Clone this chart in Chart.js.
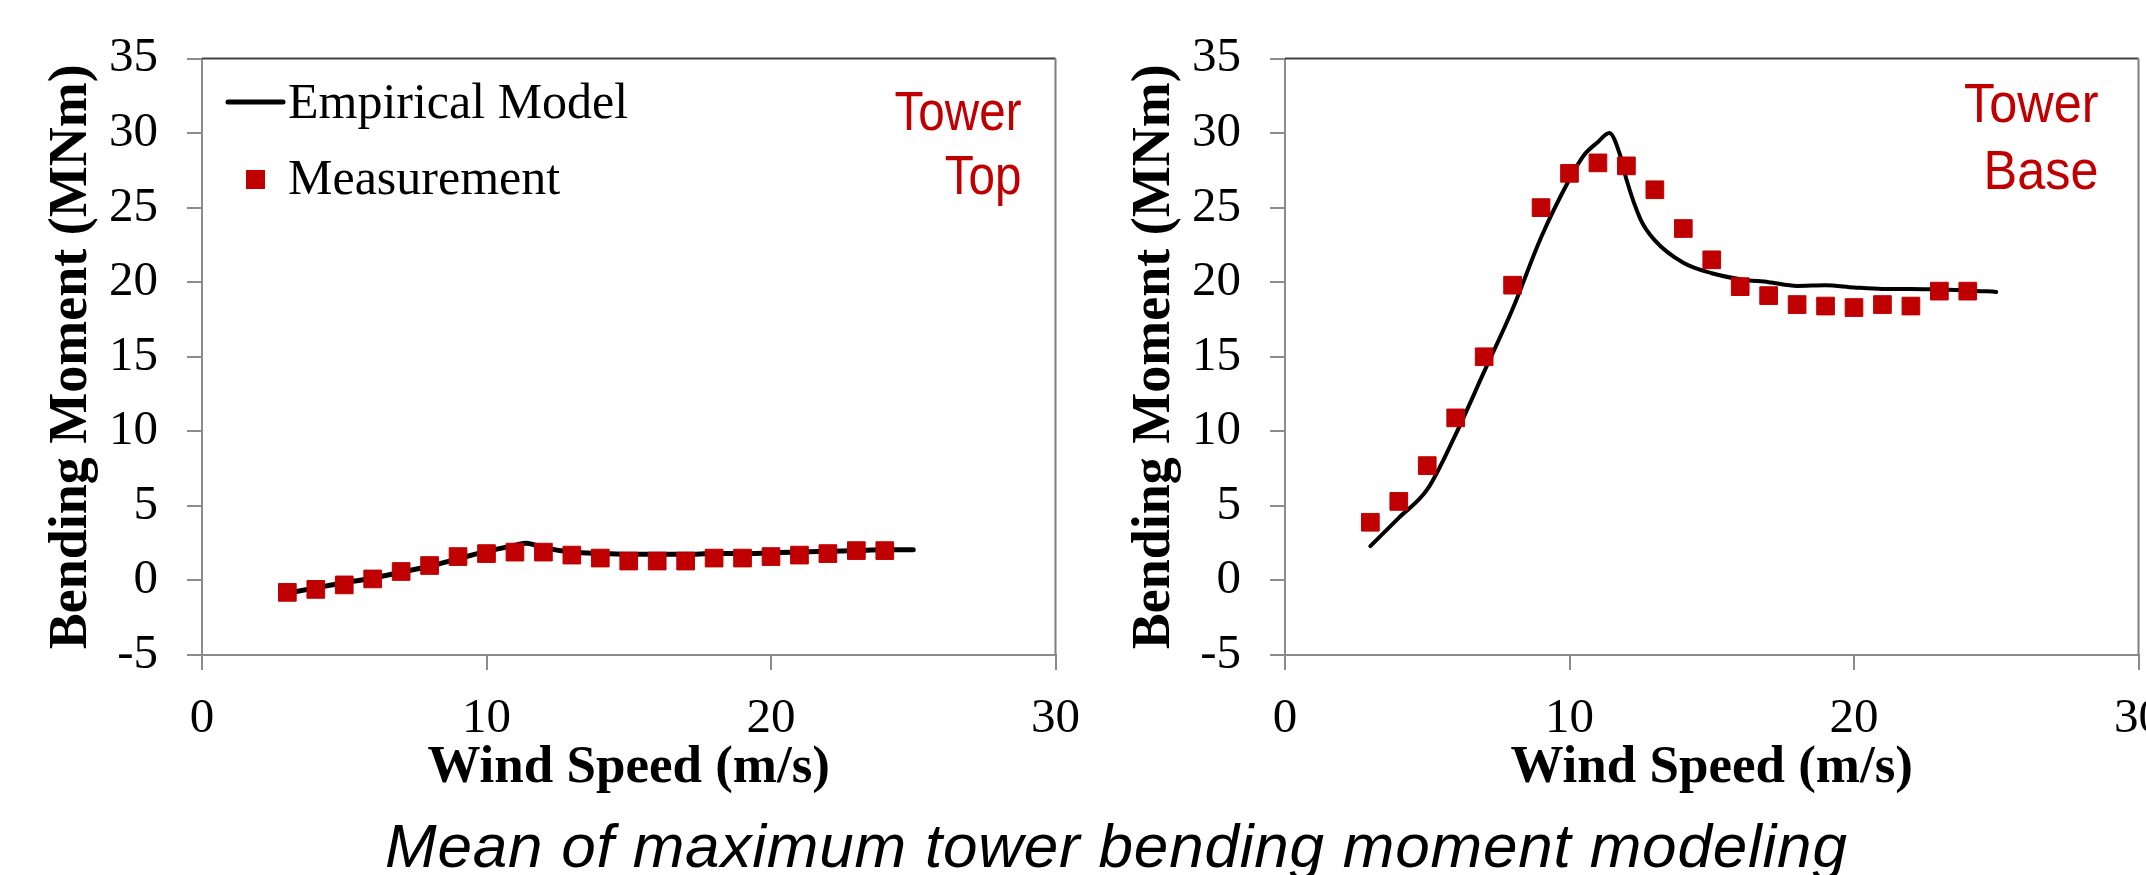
<!DOCTYPE html>
<html>
<head>
<meta charset="utf-8">
<script src="https://cdn.jsdelivr.net/npm/chart.js@4.4.1/dist/chart.umd.min.js"></script>
<style>
  html, body { margin: 0; padding: 0; background: #fff; }
  body { width: 2146px; height: 875px; position: relative; overflow: hidden; }
  canvas { position: absolute; top: 0; }
  #topChart  { left: 0; }
  #baseChart { left: 1083px; }
  #caption {
    position: absolute; left: 385px; top: 815px;
    font: italic 62px "Liberation Sans", Arial, sans-serif;
    line-height: 62px; letter-spacing: 0.8px; white-space: nowrap; color: #000;
  }
</style>
</head>
<body>
<canvas id="topChart" width="1100" height="800"></canvas>
<canvas id="baseChart" width="1100" height="800"></canvas>
<div id="caption">Mean of maximum tower bending moment modeling</div>

<script>
// ─────────────────────────────────────────────
// Data
// ─────────────────────────────────────────────
const windSpeed = [3, 4, 5, 6, 7, 8, 9, 10, 11, 12, 13, 14, 15, 16, 17, 18, 19, 20, 21, 22, 23, 24];

const topMeasured  = [-0.8, -0.6, -0.3, 0.1, 0.6, 1.0, 1.6, 1.8, 1.9, 1.9, 1.7, 1.5, 1.3, 1.3, 1.3, 1.5, 1.5, 1.6, 1.7, 1.8, 2.0, 2.0];
const baseMeasured = [3.9, 5.3, 7.7, 10.9, 15.0, 19.8, 25.0, 27.3, 28.0, 27.8, 26.2, 23.6, 21.5, 19.7, 19.1, 18.5, 18.4, 18.3, 18.5, 18.4, 19.4, 19.4];

const topModelSpeed = [3, 4, 5, 6, 7, 8, 9, 10, 11, 11.4, 12, 13, 14, 15, 16, 17, 18, 19, 20, 21, 22, 23, 24, 25];
const topModel      = [-0.85, -0.5, -0.15, 0.15, 0.55, 0.95, 1.45, 1.95, 2.35, 2.5, 2.2, 1.9, 1.8, 1.75, 1.75, 1.75, 1.8, 1.8, 1.85, 1.9, 1.95, 2.0, 2.05, 2.05];

const baseModelSpeed = [3, 4, 5, 6, 7, 8, 9, 10, 10.5, 11, 11.4, 11.8, 12, 12.5, 13, 14, 15, 16, 17, 18, 19, 20, 21, 22, 23, 24, 25];
const baseModel      = [2.3, 4.2, 6.1, 9.8, 14.0, 18.2, 23.0, 26.9, 28.5, 29.4, 30.0, 28.4, 26.9, 24.2, 22.8, 21.3, 20.6, 20.2, 20.0, 19.75, 19.8, 19.65, 19.55, 19.55, 19.5, 19.45, 19.35];

const xTicks = [0, 10, 20, 30];
const yTicks = [-5, 0, 5, 10, 15, 20, 25, 30, 35];

const seriesNames = ["Empirical Model", "Measurement"];

// ─────────────────────────────────────────────
// Styling
// ─────────────────────────────────────────────
const RED   = "#C00000";
const AXIS  = "#8c8c8c";
const SERIF = "'Liberation Serif', 'Times New Roman', serif";
const SANS  = "'Liberation Sans', Arial, sans-serif";

// ─────────────────────────────────────────────
// Plugin: plot frame, panel label, in-plot legend
// ─────────────────────────────────────────────
const panelDecor = {
  id: "panelDecor",
  beforeDatasetsDraw(chart) {
    const { ctx, chartArea: a } = chart;
    ctx.save();
    ctx.lineWidth = 2;
    ctx.strokeStyle = "#404040";
    ctx.beginPath();
    ctx.moveTo(a.left, a.top);
    ctx.lineTo(a.right, a.top);
    ctx.stroke();
    ctx.strokeStyle = "#7f7f7f";
    ctx.beginPath();
    ctx.moveTo(a.right, a.top);
    ctx.lineTo(a.right, a.bottom);
    ctx.stroke();
    ctx.restore();
  },
  afterDraw(chart, args, opts) {
    const { ctx, chartArea: a } = chart;
    ctx.save();

    // Panel label (red, right aligned)
    ctx.fillStyle = RED;
    ctx.textAlign = "right";
    ctx.textBaseline = "middle";
    ctx.font = `${opts.labelSize}px ${SANS}`;
    opts.label.forEach((txt, i) => {
      ctx.save();
      ctx.translate(a.right - opts.labelRight, a.top + opts.labelY[i]);
      ctx.scale(opts.labelSquash, 1);
      ctx.fillText(txt, 0, 0);
      ctx.restore();
    });

    // Legend inside the plot
    if (opts.legend) {
      ctx.strokeStyle = "#000";
      ctx.lineWidth = 5;
      ctx.lineCap = "round";
      ctx.beginPath();
      ctx.moveTo(a.left + 26, a.top + 43.5);
      ctx.lineTo(a.left + 81, a.top + 43.5);
      ctx.stroke();

      ctx.fillStyle = RED;
      ctx.fillRect(a.left + 44, a.top + 111.5, 19, 19);

      ctx.fillStyle = "#000";
      ctx.textAlign = "left";
      ctx.textBaseline = "alphabetic";
      ctx.font = `50px ${SERIF}`;
      ctx.fillText(seriesNames[0], a.left + 86, a.top + 59.5);
      ctx.fillText(seriesNames[1], a.left + 86, a.top + 135.5);
    }
    ctx.restore();
  }
};

// ─────────────────────────────────────────────
// Chart builder
// ─────────────────────────────────────────────
function drawPanel(canvasId, modelX, modelY, measured, lineWidth, decor) {
  const ctx = document.getElementById(canvasId);
  new Chart(ctx, {
    type: "scatter",
    data: {
      datasets: [
        {
          label: seriesNames[1],
          data: windSpeed.map((x, i) => ({ x, y: measured[i] })),
          pointStyle: "rect",
          pointRadius: 12.5,
          pointBackgroundColor: RED,
          pointBorderColor: RED,
          pointBorderWidth: 1,
          order: 0,
        },
        {
          label: seriesNames[0],
          data: modelX.map((x, i) => ({ x, y: modelY[i] })),
          showLine: true,
          borderColor: "#000",
          borderWidth: lineWidth,
          borderCapStyle: "round",
          borderJoinStyle: "round",
          cubicInterpolationMode: "monotone",
          pointRadius: 0,
          order: 1,
        },
      ]
    },
    options: {
      responsive: false,
      animation: false,
      devicePixelRatio: 1,
      layout: { padding: { top: 58.5, right: 34, bottom: 0, left: 0 } },
      plugins: {
        legend: { display: false },
        tooltip: { enabled: false },
        panelDecor: decor,
      },
      scales: {
        x: {
          type: "linear",
          min: 0, max: 30,
          afterBuildTicks: s => { s.ticks = xTicks.map(v => ({ value: v })); },
          afterFit: s => { s.height = 145; },
          grid: { drawOnChartArea: false, drawTicks: true, tickLength: 15, color: AXIS, lineWidth: 2 },
          border: { color: AXIS, width: 2 },
          ticks: { font: { family: SERIF, size: 49 }, color: "#000", padding: 20, maxRotation: 0, autoSkip: false },
          title: {
            display: true, text: "Wind Speed (m/s)", color: "#000",
            font: { family: SERIF, size: 53, weight: "bold" },
            padding: { top: 0, bottom: 0 }
          }
        },
        y: {
          min: -5, max: 35,
          afterBuildTicks: s => { s.ticks = yTicks.map(v => ({ value: v })); },
          afterFit: s => { s.width = 202; },
          grid: { drawOnChartArea: false, drawTicks: true, tickLength: 15, color: AXIS, lineWidth: 2 },
          border: { color: AXIS, width: 2 },
          ticks: { font: { family: SERIF, size: 49 }, color: "#000", padding: 29, autoSkip: false },
          title: {
            display: true, text: "Bending Moment (MNm)", color: "#000",
            font: { family: SERIF, size: 54, weight: "bold" },
            padding: { top: 40, bottom: 0 }
          }
        }
      }
    },
    plugins: [panelDecor]
  });
}

drawPanel("topChart", topModelSpeed, topModel, topMeasured, 5, {
  label: ["Tower", "Top"], labelY: [56, 120], labelRight: 34, labelSize: 56, labelSquash: 0.85, legend: true
});
drawPanel("baseChart", baseModelSpeed, baseModel, baseMeasured, 4, {
  label: ["Tower", "Base"], labelY: [48, 115.5], labelRight: 40, labelSize: 56, labelSquash: 0.9, legend: false
});
</script>
</body>
</html>
